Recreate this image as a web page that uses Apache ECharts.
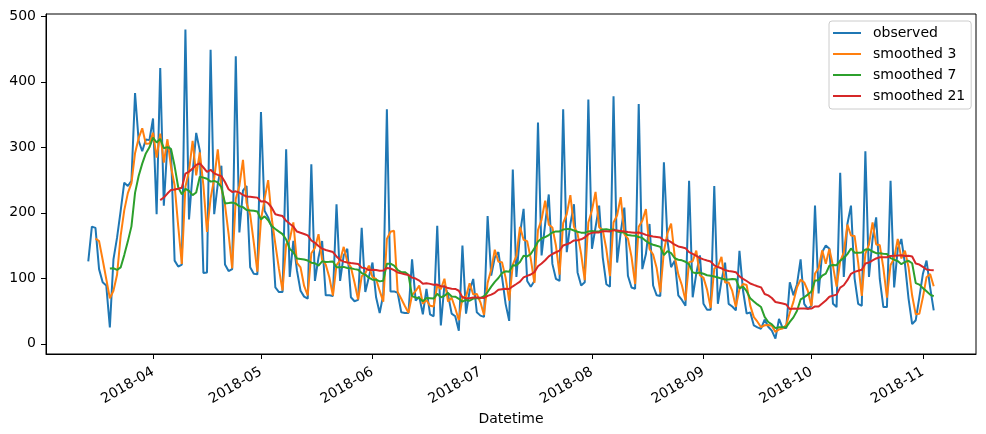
<!DOCTYPE html>
<html>
<head>
<meta charset="utf-8">
<script src="https://cdn.jsdelivr.net/npm/echarts@6/dist/echarts.min.js"></script>
<style>
html, body { margin: 0; padding: 0; background: #fff; }
#chart { width: 986px; height: 434px; }
</style>
</head>
<body>
<div id="chart"></div>
<script>
// daily series, first day 2018-03-14
var firstDay = [2018, 2, 14];

var observed = [
  126,179,177,114,94,89,25,129,162,203,
  246,241,249,383,310,294,312,311,344,198,
  421,211,305,294,127,118,121,480,190,260,
  322,295,108,109,449,198,244,272,121,111,
  114,439,170,234,241,117,107,106,354,203,
  193,178,86,79,79,297,102,157,112,81,
  72,69,274,96,132,157,74,74,73,213,
  96,135,145,71,65,67,177,79,102,124,
  71,47,75,358,80,80,78,48,47,47,
  129,66,72,45,84,45,42,180,28,90,
  75,46,42,20,150,46,81,99,48,43,
  41,195,104,132,140,102,61,35,266,102,
  168,206,96,87,96,338,135,183,228,122,
  99,96,358,140,183,213,109,89,94,373,
  145,178,211,132,91,87,378,124,170,208,
  104,86,84,366,114,137,183,89,74,73,
  277,157,117,127,74,67,58,249,71,107,
  135,61,52,52,241,61,96,124,61,57,
  51,142,81,46,48,28,25,23,37,26,
  20,8,38,24,24,94,74,91,129,61,
  53,58,211,77,140,150,145,61,56,261,
  102,183,211,100,61,58,294,102,160,193,
  99,56,56,249,86,145,160,122,69,30,
  36,71,107,127,86,51
];

var smoothed3 = [
  null,null,160.7,156.7,128.3,99.0,69.3,81.0,105.3,164.7,
  203.7,230.0,245.3,291.0,314.0,329.0,305.3,305.7,322.3,284.3,
  321.0,276.7,312.3,270.0,242.0,179.7,122.0,239.7,263.7,310.0,
  257.3,292.3,241.7,170.7,222.0,252.0,297.0,238.0,212.3,168.0,
  115.3,221.3,241.0,281.0,215.0,197.3,155.0,110.0,189.0,221.0,
  250.0,191.3,152.3,114.3,81.3,151.7,159.3,185.3,123.7,116.7,
  88.3,74.0,138.3,146.3,167.3,128.3,121.0,101.7,73.7,120.0,
  127.3,148.0,125.3,117.0,93.7,67.7,103.0,107.7,119.3,101.7,
  99.0,80.7,64.3,160.0,171.0,172.7,79.3,68.7,57.7,47.3,
  74.3,80.7,89.0,61.0,67.0,58.0,57.0,89.0,83.3,99.3,
  64.3,70.3,54.3,36.0,70.7,72.0,92.3,75.3,76.0,63.3,
  44.0,93.0,113.3,143.7,125.3,124.7,101.0,66.0,120.7,134.3,
  178.7,158.7,156.7,129.7,93.0,173.7,189.7,218.7,182.0,177.7,
  149.7,105.7,184.3,198.0,227.0,178.7,168.3,137.0,97.3,185.3,
  204.0,232.0,178.0,173.7,144.7,103.3,185.3,196.3,224.0,167.3,
  160.7,132.7,91.3,178.7,188.0,205.7,144.7,136.3,115.3,78.7,
  141.3,169.0,183.7,133.7,106.0,89.3,66.3,124.7,126.0,142.3,
  104.3,101.0,82.7,55.0,115.0,118.0,132.7,93.7,93.7,80.7,
  56.3,83.3,91.3,89.7,58.3,40.7,33.7,25.3,28.3,28.7,
  27.7,18.0,22.0,23.3,28.7,47.3,64.0,86.3,98.0,93.7,
  81.0,57.3,107.3,115.3,142.7,122.3,145.0,118.7,87.3,126.0,
  139.7,182.0,165.3,164.7,124.0,73.0,137.7,151.3,185.3,151.7,
  150.7,116.0,70.3,120.3,130.3,160.0,130.3,142.3,117.0,73.7,
  45.0,45.7,71.3,101.7,106.7,88.0
];

var smoothed7 = [
  null,null,null,null,null,null,114.9,115.3,112.9,116.6,
  135.4,156.4,179.3,230.4,256.3,275.1,290.7,300.0,314.7,307.4,
  312.9,298.7,300.3,297.7,271.4,239.1,228.1,236.6,233.6,227.1,
  231.1,255.1,253.7,252.0,247.6,248.7,246.4,239.3,214.4,214.9,
  215.6,214.1,210.1,208.7,204.3,203.7,203.1,202.0,189.9,194.6,
  188.7,179.7,175.3,171.3,167.4,159.3,144.9,139.7,130.3,129.6,
  128.6,127.1,123.9,123.0,119.4,125.9,124.9,125.1,125.7,117.0,
  117.0,117.4,115.7,115.3,114.0,113.1,108.0,105.6,100.9,97.9,
  97.9,95.3,96.4,122.3,122.4,119.3,112.7,109.4,109.4,105.4,
  72.7,70.7,69.6,64.9,70.0,69.7,69.0,76.3,70.9,73.4,
  77.7,72.3,71.9,68.7,64.4,67.0,65.7,69.1,69.4,69.6,
  72.6,79.0,87.3,94.6,100.4,108.1,110.7,109.9,120.0,119.7,
  124.9,134.3,133.4,137.1,145.9,156.1,160.9,163.0,166.1,169.9,
  171.6,171.6,174.4,175.1,175.1,173.0,171.1,169.7,169.4,171.6,
  172.3,171.6,171.3,174.6,174.9,173.9,174.6,171.6,170.4,170.0,
  166.0,165.3,164.9,163.1,161.7,157.0,153.4,151.3,149.6,148.0,
  135.3,141.4,138.6,130.6,128.4,127.4,125.3,121.3,109.0,107.6,
  108.7,106.9,104.7,103.9,102.7,101.3,99.7,98.1,98.1,98.9,
  98.7,84.6,87.4,80.3,69.4,64.7,60.1,56.1,41.1,33.3,
  29.6,23.9,25.3,25.1,25.3,33.4,40.3,50.4,67.7,71.0,
  75.1,80.0,96.7,97.1,104.1,107.1,119.1,120.3,120.0,127.1,
  130.7,136.9,145.6,139.1,139.1,139.4,144.1,144.1,140.9,138.3,
  138.1,137.4,137.1,130.7,128.4,126.3,121.6,124.9,126.7,123.0,
  92.6,90.4,85.0,80.3,75.1,72.6
];

var smoothed21 = [
  null,null,null,null,null,null,null,null,null,null,
  null,null,null,null,null,null,null,null,null,null,
  219.4,223.4,229.4,235.0,235.6,236.8,238.3,260.0,262.9,267.5,
  273.2,275.5,269.2,262.5,265.7,260.3,258.0,256.0,247.0,235.9,
  231.9,232.8,230.8,227.4,224.9,224.4,223.9,223.2,217.2,217.8,
  214.6,207.8,197.8,196.4,195.0,187.8,183.2,179.0,171.4,169.5,
  167.7,165.5,157.7,154.1,149.3,145.3,143.2,141.7,140.1,133.4,
  128.3,125.5,124.0,123.2,122.6,122.0,116.3,115.2,112.6,113.1,
  112.7,111.5,111.8,115.8,115.0,112.5,108.8,107.5,106.2,105.0,
  101.0,99.6,96.6,91.8,92.4,91.5,90.3,90.4,88.0,87.4,
  85.1,83.9,83.7,81.0,71.1,69.5,69.6,70.6,70.6,70.4,
  70.1,73.2,75.0,77.9,82.4,83.3,84.0,83.7,87.8,91.3,
  95.0,101.3,103.7,105.8,109.4,118.4,122.6,127.5,133.6,137.1,
  139.8,142.4,150.2,151.9,154.3,157.8,158.1,159.5,162.3,167.4,
  169.4,169.9,170.1,171.9,172.0,171.6,173.5,173.0,172.4,171.4,
  170.6,170.0,169.4,169.8,168.5,166.3,164.9,164.0,163.2,162.2,
  157.7,158.2,155.3,151.3,148.6,147.4,146.0,139.9,137.4,134.4,
  130.9,128.9,127.2,125.7,119.8,117.2,115.3,112.5,111.1,110.3,
  109.3,102.9,99.2,95.9,92.1,89.9,87.9,86.2,76.1,74.0,
  69.9,63.8,62.7,61.4,60.0,53.0,53.7,53.4,53.7,53.7,
  53.5,53.8,57.1,56.9,61.4,66.2,71.8,73.5,75.1,85.8,
  89.4,97.1,106.8,109.8,111.5,113.1,122.7,124.0,127.3,130.3,
  132.1,132.3,132.2,134.0,134.4,134.7,135.1,134.0,134.4,133.2,
  122.5,121.0,117.4,113.4,112.7,112.2
];

var seriesNames = ['observed', 'smoothed 3', 'smoothed 7', 'smoothed 21'];
var seriesColors = ['#1f77b4', '#ff7f0e', '#2ca02c', '#d62728'];

var xTickDates = ['2018-04-01','2018-05-01','2018-06-01','2018-07-01','2018-08-01','2018-09-01','2018-10-01','2018-11-01'];
var xTickLabels = ['2018-04','2018-05','2018-06','2018-07','2018-08','2018-09','2018-10','2018-11'];
var yTicks = [0, 100, 200, 300, 400, 500];

var font = 'DejaVu Sans';

function dayTs(i) {
  return Date.UTC(firstDay[0], firstDay[1], firstDay[2] + i);
}

function pairs(values) {
  var out = [];
  values.forEach(function(v, i) {
    if (v !== null) out.push([dayTs(i), v]);
  });
  return out;
}

var xTickTs = xTickDates.map(function(s) { return Date.parse(s + 'T00:00:00Z'); });

var myChart = echarts.init(document.getElementById('chart'), null, { renderer: 'canvas' });

// x axis is a plain value axis holding UTC timestamps, ticks on the month starts
var option = {
  animation: false,
  backgroundColor: '#fff',
  grid: {
    left: 46, right: 10, top: 14, bottom: 80,
    containLabel: false,
    show: true,
    borderColor: '#000',
    borderWidth: 1,
    backgroundColor: 'transparent'
  },
  legend: {
    orient: 'vertical',
    left: 829,
    top: 21,
    padding: [5, 6, 6, 4],
    itemGap: 7,
    itemWidth: 28,
    itemHeight: 2,
    icon: 'rect',
    backgroundColor: 'rgba(255,255,255,0.8)',
    borderColor: '#cccccc',
    borderWidth: 1,
    borderRadius: 3,
    textStyle: { fontFamily: font, fontSize: 14, color: '#000', lineHeight: 14, padding: [0, 0, 0, 7] },
    data: seriesNames
  },
  xAxis: {
    type: 'value',
    min: Date.UTC(2018, 2, 2, 6),
    max: Date.UTC(2018, 10, 15, 18),
    scale: true,
    name: 'Datetime',
    nameLocation: 'middle',
    nameGap: 55,
    nameTextStyle: { fontFamily: font, fontSize: 14, color: '#000' },
    axisLine: { show: true, onZero: false, lineStyle: { color: '#000', width: 1 } },
    axisTick: { show: true, length: 5, lineStyle: { color: '#000', width: 1 }, customValues: xTickTs },
    axisLabel: {
      show: true,
      rotate: 30,
      margin: 17,
      fontFamily: font,
      fontSize: 14,
      color: '#000',
      customValues: xTickTs,
      formatter: function(v) {
        var k = xTickTs.indexOf(v);
        return k >= 0 ? xTickLabels[k] : '';
      }
    },
    splitLine: { show: false }
  },
  yAxis: {
    type: 'value',
    min: -15.6,
    max: 503.6,
    axisLine: { show: true, onZero: false, lineStyle: { color: '#000', width: 1 } },
    axisTick: { show: true, length: 5, lineStyle: { color: '#000', width: 1 }, customValues: yTicks },
    axisLabel: {
      show: true,
      margin: 10,
      fontFamily: font,
      fontSize: 14,
      color: '#000',
      customValues: yTicks
    },
    splitLine: { show: false }
  },
  series: [observed, smoothed3, smoothed7, smoothed21].map(function(arr, k) {
    return {
      name: seriesNames[k],
      type: 'line',
      data: pairs(arr),
      showSymbol: false,
      symbol: 'none',
      color: seriesColors[k],
      lineStyle: { color: seriesColors[k], width: 2 },
      emphasis: { disabled: true },
      z: 2 + k
    };
  })
};

myChart.setOption(option);
</script>
</body>
</html>
